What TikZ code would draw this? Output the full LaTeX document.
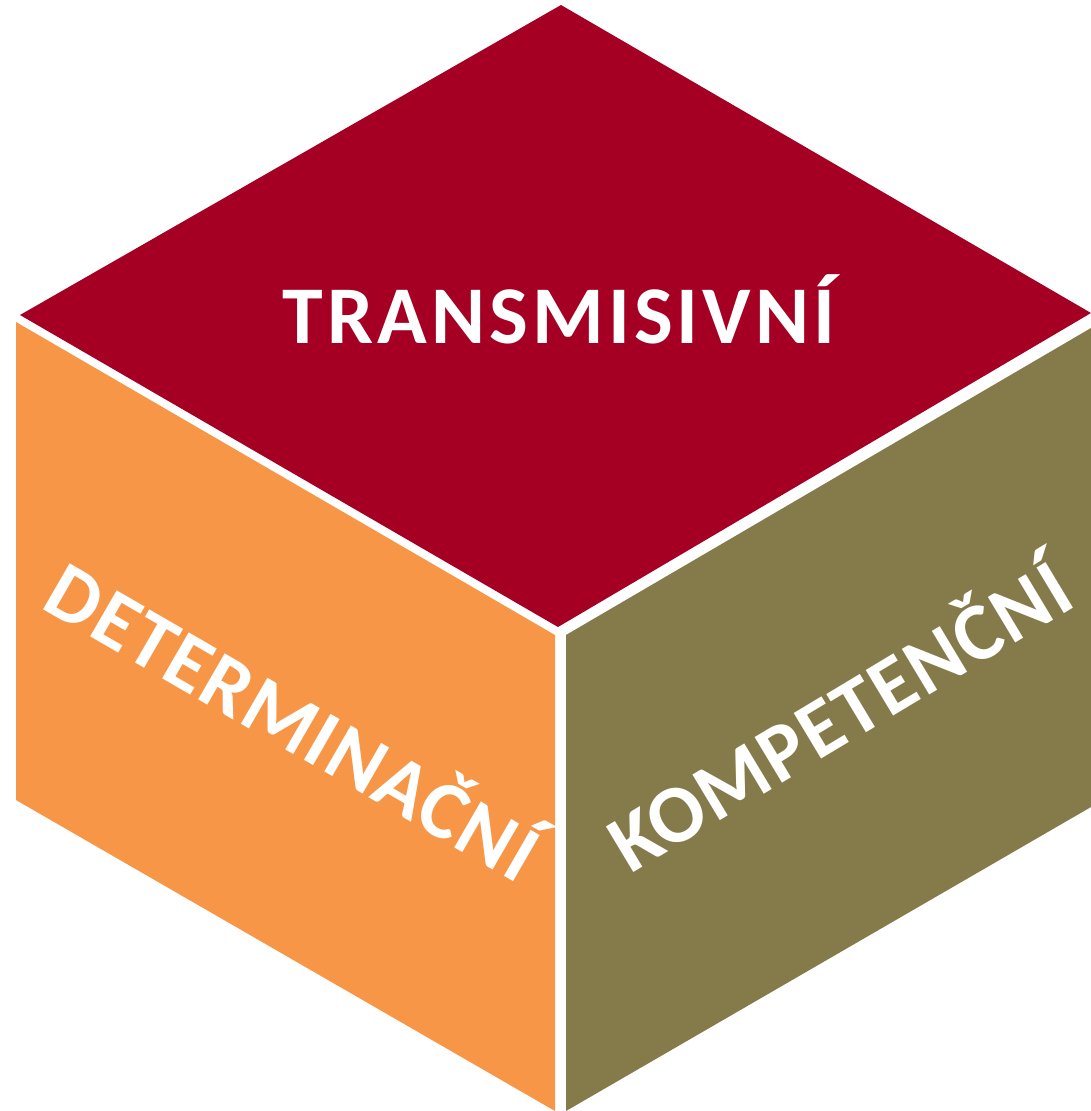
\documentclass[tikz,border=0pt]{standalone}
\usepackage{fontspec}
\setmainfont{Carlito}
\newfontfamily\labelfont[LetterSpace=5]{Carlito}
\newfontfamily\sidefont[LetterSpace=2]{Carlito}
\definecolor{topred}{HTML}{A50024}
\definecolor{leftorange}{HTML}{F79646}
\definecolor{rightolive}{HTML}{847A4A}
\tikzset{
  face/.style={draw=none},
  toplabel/.style={text=white, font=\labelfont\bfseries\fontsize{82}{90}\selectfont, anchor=base, inner sep=0pt},
  sidelabel/.style={text=white, font=\sidefont\bfseries\fontsize{82}{90}\selectfont, anchor=base, inner sep=0pt},
}
\begin{document}
\begin{tikzpicture}[x=1pt,y=-1pt]
\useasboundingbox (0,0) rectangle (1091,1111);
\fill[white] (0,0) rectangle (1091,1111);
% faces
\fill[face, topred] (561,5) -- (1091,313) -- (558,627) -- (20,315) -- cycle;
\fill[face, leftorange] (16,322) -- (555,635) -- (555,1111) -- (16,800) -- cycle;
\fill[face, rightolive] (566,635) -- (1091,328) -- (1091,807) -- (566,1111) -- cycle;
% labels
\node[toplabel] (top) at (559,343) {TRANSMISIVNÍ};
\node[sidelabel, rotate=-30] (left) at (279,746) {DETERMINAČNÍ};
\node[sidelabel, rotate=31] (right) at (854,740) {KOMPETENČNÍ};
\end{tikzpicture}
\end{document}
